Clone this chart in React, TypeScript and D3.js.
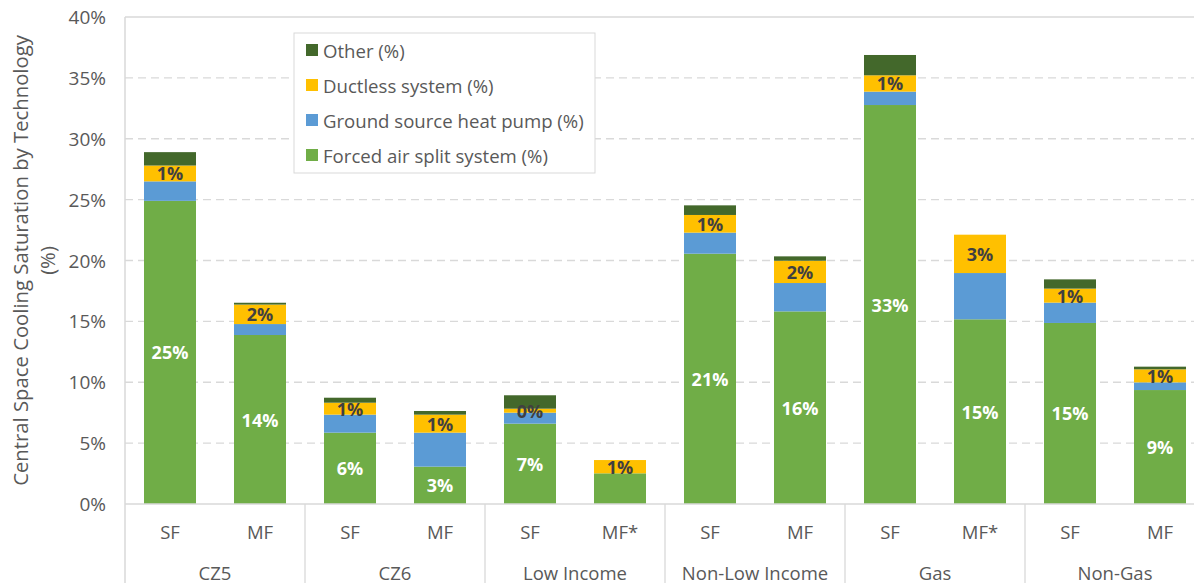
import React from "react";
import * as d3 from "d3";

const groups = ["CZ5", "CZ6", "Low Income", "Non-Low Income", "Gas", "Non-Gas"];
const subLabels = ["SF", "MF", "SF", "MF", "SF", "MF*", "SF", "MF", "SF", "MF*", "SF", "MF"];
const forcedAir = [24.9, 13.88, 5.86, 3.07, 6.6, 2.52, 20.56, 15.82, 32.77, 15.17, 14.87, 9.36];
const groundSource = [1.6, 0.9, 1.48, 2.79, 0.9, 0, 1.73, 2.33, 1.1, 3.8, 1.67, 0.63];
const ductless = [1.3, 1.6, 0.98, 1.48, 0.33, 1.09, 1.45, 1.83, 1.34, 3.15, 1.15, 1.07];
const other = [1.1, 0.15, 0.41, 0.3, 1.1, 0, 0.79, 0.36, 1.67, 0, 0.76, 0.22];
const forcedLabelShown = [true, true, true, true, true, false, true, true, true, true, true, true];
const yTicks = [0, 5, 10, 15, 20, 25, 30, 35, 40];

const seriesNames = ["Forced air split system (%)", "Ground source heat pump (%)", "Ductless system (%)", "Other (%)"];
const seriesColors = ["#70AD47", "#5B9BD5", "#FFC000", "#43682B"];

const W = 1194;
const H = 583;
const left = 125;
const top = 17;
const bottom = 504;
const right = 1205;
const FONT = "'Open Sans', 'Noto Sans', sans-serif";

export default function App() {
  const n = subLabels.length;
  const x = d3
    .scaleBand<number>()
    .domain(d3.range(n))
    .range([left, right])
    .paddingInner(0.4222)
    .paddingOuter(0.2111);
  const y = d3.scaleLinear().domain([0, 40]).range([bottom, top]);

  const rows = d3.range(n).map((i) => ({
    i,
    forced: forcedAir[i],
    gshp: groundSource[i],
    duct: ductless[i],
    other: other[i],
  }));
  const keys = ["forced", "gshp", "duct", "other"];
  const stacked = d3.stack<any>().keys(keys)(rows);

  const step = x.step();
  const groupWidth = step * 2;

  const legendOrder = [3, 2, 1, 0];

  return (
    <svg
      width={W}
      height={H}
      style={{ position: "absolute", left: 0, top: 0, display: "block", background: "#fff" }}
      fontFamily={FONT}
    >
      {/* gridlines */}
      {yTicks.map((t) =>
        t === 0 ? null : (
          <line
            key={t}
            x1={left}
            x2={right}
            y1={y(t)}
            y2={y(t)}
            stroke="#d9d9d9"
            strokeWidth={1.3}
            strokeDasharray={t === 40 ? undefined : "8,5"}
          />
        )
      )}
      {/* y tick labels */}
      {yTicks.map((t) => (
        <text
          key={"yl" + t}
          x={106}
          y={y(t)}
          textAnchor="end"
          dominantBaseline="central"
          fontSize={19}
          fill="#595959"
        >
          {t}%
        </text>
      ))}
      {/* axis title */}
      <text
        transform={`translate(20, ${(top + bottom) / 2}) rotate(-90)`}
        textAnchor="middle"
        dominantBaseline="central"
        fontSize={20.3}
        fill="#595959"
      >
        Central Space Cooling Saturation by Technology
      </text>
      <text
        transform={`translate(47, ${(top + bottom) / 2}) rotate(-90)`}
        textAnchor="middle"
        dominantBaseline="central"
        fontSize={20.3}
        fill="#595959"
      >
        (%)
      </text>

      {/* bars */}
      {stacked.map((layer, li) => (
        <g key={layer.key} fill={seriesColors[li]}>
          {layer.map((d, i) => {
            const h = y(d[0]) - y(d[1]);
            if (h <= 0) return null;
            return <rect key={i} x={x(i)} y={y(d[1])} width={x.bandwidth()} height={h} />;
          })}
        </g>
      ))}

      {/* forced labels */}
      {stacked[0].map((d, i) =>
        forcedLabelShown[i] ? (
          <text
            key={"fl" + i}
            x={(x(i) as number) + x.bandwidth() / 2}
            y={(y(d[0]) + y(d[1])) / 2}
            textAnchor="middle"
            dominantBaseline="central"
            fontSize={18}
            fontWeight="bold"
            fill="#ffffff"
          >
            {Math.round(forcedAir[i])}%
          </text>
        ) : null
      )}
      {/* ductless labels */}
      {stacked[2].map((d, i) => (
        <text
          key={"dl" + i}
          x={(x(i) as number) + x.bandwidth() / 2}
          y={(y(d[0]) + y(d[1])) / 2}
          textAnchor="middle"
          dominantBaseline="central"
          fontSize={18}
          fontWeight="bold"
          fill="#404040"
        >
          {Math.round(ductless[i])}%
        </text>
      ))}

      {/* axes */}
      <line x1={left} x2={left} y1={top} y2={H} stroke="#d9d9d9" strokeWidth={1.5} />
      <line x1={left} x2={right} y1={bottom} y2={bottom} stroke="#d9d9d9" strokeWidth={1.5} />
      {groups.map((g, gi) => (
        <line
          key={"sep" + gi}
          x1={left + groupWidth * (gi + 1)}
          x2={left + groupWidth * (gi + 1)}
          y1={bottom}
          y2={H}
          stroke="#d9d9d9"
          strokeWidth={1.3}
        />
      ))}
      {subLabels.map((s, i) => (
        <text
          key={"sl" + i}
          x={(x(i) as number) + x.bandwidth() / 2}
          y={531}
          textAnchor="middle"
          dominantBaseline="central"
          fontSize={18.5}
          fill="#595959"
        >
          {s}
        </text>
      ))}
      {groups.map((g, gi) => (
        <text
          key={"gl" + gi}
          x={left + groupWidth * gi + groupWidth / 2}
          y={572}
          textAnchor="middle"
          dominantBaseline="central"
          fontSize={18.5}
          fill="#595959"
        >
          {g}
        </text>
      ))}

      {/* legend */}
      <rect x={294} y={33} width={301} height={140} fill="#ffffff" stroke="#d9d9d9" strokeWidth={1} />
      {legendOrder.map((si, k) => (
        <g key={"lg" + si} transform={`translate(306, ${50 + k * 35})`}>
          <rect x={0} y={-6} width={12} height={12} fill={seriesColors[si]} />
          <text x={17} y={0} dominantBaseline="central" fontSize={18.6} fill="#595959">
            {seriesNames[si]}
          </text>
        </g>
      ))}
    </svg>
  );
}
